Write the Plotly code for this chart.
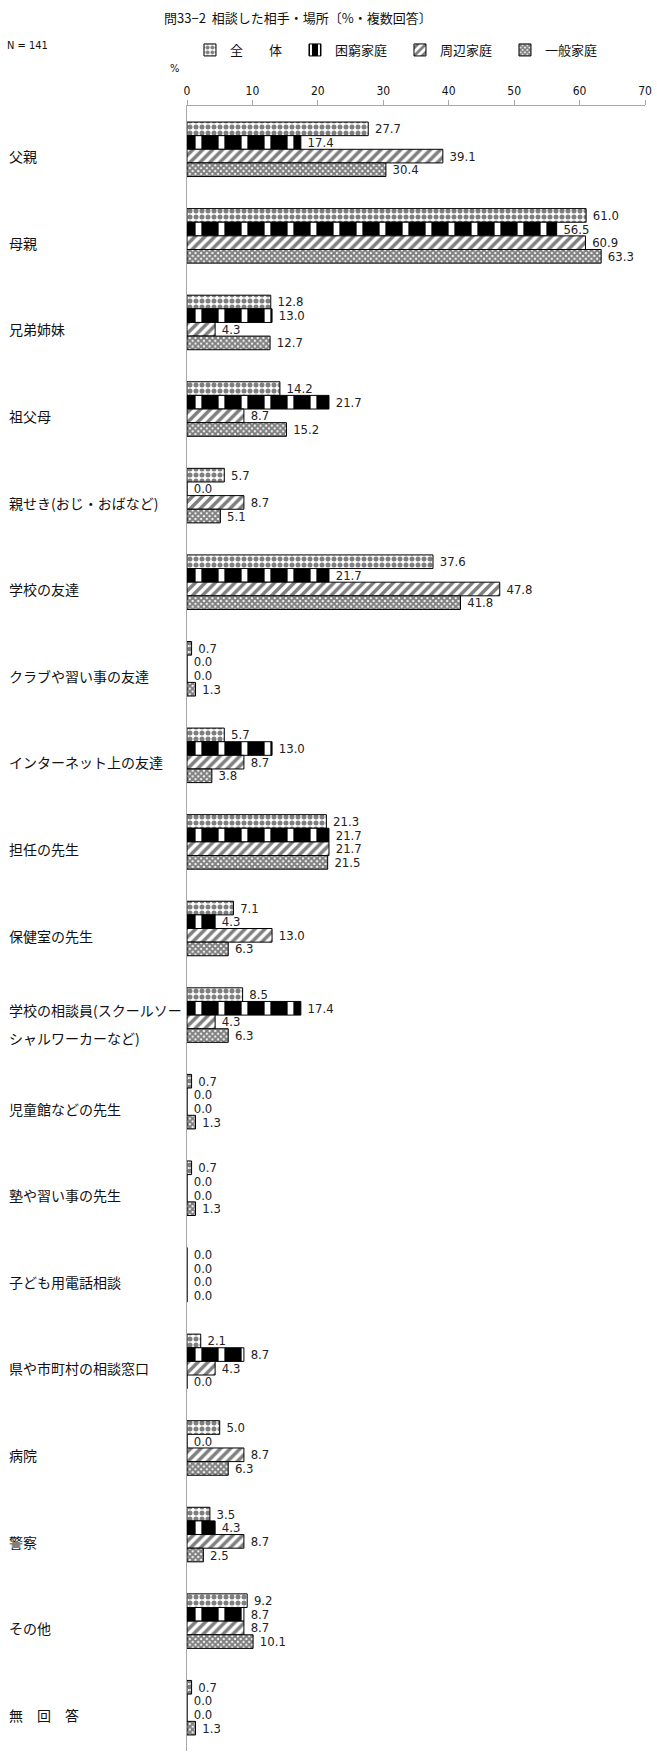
"""
Consultation partners chart (問33-2), recreated with Plotly.
Grouped horizontal bars with black & white patterns.
"""

import plotly.graph_objects as go

# ---- data -------------------------------------------------------------
categories = [
    "父親", "母親", "兄弟姉妹", "祖父母", "親せき(おじ・おばなど)",
    "学校の友達", "クラブや習い事の友達", "インターネット上の友達",
    "担任の先生", "保健室の先生",
    "学校の相談員(スクールソー<br>シャルワーカーなど)",
    "児童館などの先生", "塾や習い事の先生", "子ども用電話相談",
    "県や市町村の相談窓口", "病院", "警察", "その他", "無　回　答",
]

series_names = ["全　　体", "困窮家庭", "周辺家庭", "一般家庭"]

zentai = [27.7, 61.0, 12.8, 14.2, 5.7, 37.6, 0.7, 5.7, 21.3, 7.1,
          8.5, 0.7, 0.7, 0.0, 2.1, 5.0, 3.5, 9.2, 0.7]
konkyu = [17.4, 56.5, 13.0, 21.7, 0.0, 21.7, 0.0, 13.0, 21.7, 4.3,
          17.4, 0.0, 0.0, 0.0, 8.7, 0.0, 4.3, 8.7, 0.0]
shuhen = [39.1, 60.9, 4.3, 8.7, 8.7, 47.8, 0.0, 8.7, 21.7, 13.0,
          4.3, 0.0, 0.0, 0.0, 4.3, 8.7, 8.7, 8.7, 0.0]
ippan = [30.4, 63.3, 12.7, 15.2, 5.1, 41.8, 1.3, 3.8, 21.5, 6.3,
         6.3, 1.3, 1.3, 0.0, 0.0, 6.3, 2.5, 10.1, 1.3]

x_ticks = [0, 10, 20, 30, 40, 50, 60, 70]

# ---- styling ------------------------------------------------------------
W, H = 657, 1756
M_L, M_R, M_T, M_B = 187, 8, 106, 5
JP_FONT = "Noto Sans CJK JP"
NUM_FONT = "Liberation Sans Narrow, Arial Narrow, DejaVu Sans Condensed, Noto Sans CJK JP, sans-serif"
AXIS_GREY = "#a8a8a8"

plot_w = W - M_L - M_R
plot_h = H - M_T - M_B


def px_x(x):
    """pixel x -> paper x"""
    return (x - M_L) / plot_w


def px_y(y):
    """pixel y (from top) -> paper y"""
    return (H - M_B - y) / plot_h


patterns = [
    dict(shape=".", fgcolor="black", bgcolor="white", size=6, solidity=0.55),
    dict(shape="|", fgcolor="white", bgcolor="black", size=23, solidity=0.25, fgopacity=1),
    dict(shape="/", fgcolor="black", bgcolor="white", size=7, solidity=0.5),
    dict(shape="x", fgcolor="black", bgcolor="white", size=4, solidity=0.75),
]

fig = go.Figure()

for name, values, pat in zip(series_names, [zentai, konkyu, shuhen, ippan], patterns):
    fig.add_trace(go.Bar(
        x=values,
        y=categories,
        orientation='h',
        name=name,
        marker=dict(color="white", pattern=pat, line=dict(color="black", width=1)),
        text=values,
        texttemplate='\u00a0%{x:.1f}',
        textposition='outside',
        textfont=dict(family=NUM_FONT, size=13, color="#222"),
        constraintext='none',
        cliponaxis=False,
    ))

# category labels, left aligned at the figure edge
for cat in categories:
    lines = cat.split("<br>")
    shifts = [-7] if len(lines) == 1 else [5, -23]
    for line, ys in zip(lines, shifts):
        fig.add_annotation(
            x=px_x(5), xref='paper', xanchor='left',
            y=cat, yref='y', yanchor='middle', yshift=ys,
            text=line, showarrow=False,
            font=dict(family=JP_FONT, size=14, color="#111"),
        )

fig.add_annotation(
    x=px_x(162), xref='paper', xanchor='left',
    y=px_y(17), yref='paper', yanchor='middle',
    text="問33−2  相談した相手・場所〔%・複数回答〕", showarrow=False,
    font=dict(family=JP_FONT, size=13, color="#111"),
)
fig.add_annotation(
    x=px_x(3), xref='paper', xanchor='left',
    y=px_y(45), yref='paper', yanchor='middle',
    text="N = 141", showarrow=False,
    font=dict(family=NUM_FONT, size=11, color="#111"),
)
fig.add_annotation(
    x=px_x(168), xref='paper', xanchor='left',
    y=px_y(68), yref='paper', yanchor='middle',
    text="%", showarrow=False,
    font=dict(family=NUM_FONT, size=11, color="#111"),
)

fig.update_layout(
    width=W,
    height=H,
    margin=dict(l=M_L, r=M_R, t=M_T, b=M_B),
    paper_bgcolor="white",
    plot_bgcolor="white",
    barmode='group',
    bargap=0.37,
    bargroupgap=0,
    showlegend=True,
    legend=dict(
        orientation='h',
        x=px_x(190), xanchor='left',
        y=px_y(50), yanchor='middle',
        entrywidth=60, entrywidthmode='pixels',
        font=dict(family=JP_FONT, size=13, color="#111"),
        traceorder='normal',
        itemclick=False,
    ),
    xaxis=dict(
        side='top',
        range=[0, 70],
        tickvals=x_ticks,
        ticks='outside', ticklen=5, tickcolor=AXIS_GREY,
        showline=True, linecolor=AXIS_GREY, linewidth=1,
        showgrid=False, zeroline=False,
        tickfont=dict(family=NUM_FONT, size=12, color="#111"),
    ),
    yaxis=dict(
        autorange='reversed',
        showticklabels=False,
        ticks='',
        showline=True, linecolor=AXIS_GREY, linewidth=1,
        showgrid=False, zeroline=False,
    ),
)

# drop the default page margin so the figure sits at the window's corner
fig.write_html("out.html", config={'displayModeBar': False},
               post_script="document.body.style.margin='0';")
